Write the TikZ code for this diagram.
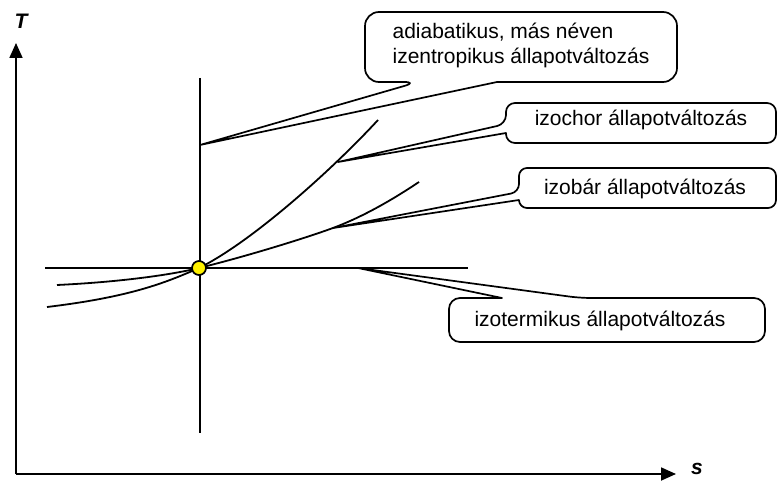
\documentclass[tikz,border=0pt]{standalone}
\usepackage{fontspec}
\setmainfont{Liberation Sans}
\usetikzlibrary{arrows.meta}
\begin{document}
\begin{tikzpicture}[x=1bp,y=-1bp,
  line width=1.8bp, line join=round,
  axis/.style={line width=1.8bp,-{Triangle[length=15bp,width=13bp]}},
  curve/.style={line width=1.8bp},
  bubble/.style={draw, line width=1.7bp},
  txt/.style={font=\fontsize{21bp}{25bp}\selectfont, inner sep=0pt, align=left},
  axlabel/.style={font=\fontsize{21bp}{25bp}\selectfont\bfseries\itshape, inner sep=0pt},
  state/.style={circle, draw, fill=yellow, line width=1.7bp, minimum size=14bp, inner sep=0pt}]
\useasboundingbox (0,0) rectangle (779,482);

% axes
\coordinate (O) at (16,474);
\coordinate (Tend) at (16,43);
\coordinate (Send) at (676,474);
\draw[axis] (O) -- (Tend);
\draw[axis] (O) -- (Send);
\node[axlabel] (T) at (21,21) {T};
\node[axlabel] (S) at (697,469) {s};

% curve end points and callout tips
\coordinate (P) at (199,268);
\coordinate (adTop) at (200,78);
\coordinate (adBot) at (200,433);
\coordinate (isoL) at (45,268);
\coordinate (isoR) at (468,268);
\coordinate (vL) at (47,307);
\coordinate (vR) at (378,120);
\coordinate (pL) at (57,285);
\coordinate (pM) at (333,228);
\coordinate (pR) at (419,182);
\coordinate (tipA) at (200,145);
\coordinate (tipV) at (338,162);
\coordinate (tipP) at (333,228);
\coordinate (tipT) at (358,268);

% callouts
\draw[bubble] (tipA) -- (497,82) [rounded corners=14bp] -- (677,82) -- (677,12)
  -- (365,12) -- (365,82) -- (418,82) [sharp corners] -- cycle;
\draw[bubble] (tipV) -- (506,133) [rounded corners=9bp] -- (506,143) -- (776,143)
  -- (776,103) -- (506,103) -- (506,124) [sharp corners] -- cycle;
\draw[bubble] (tipP) -- (519,200) [rounded corners=8bp] -- (519,208) -- (776,208)
  -- (776,168) -- (519,168) -- (519,192) [sharp corners] -- cycle;
\draw[bubble] (tipT) -- (502,298) [rounded corners=11bp] -- (449,298) -- (449,342)
  -- (765,342) -- (765,298) -- (580,298) [sharp corners] -- cycle;

% processes
\draw[curve] (adTop) -- (adBot);
\draw[curve] (isoL) -- (isoR);
\draw[curve] (vL) .. controls (130,297) and (165,283) .. (P)
  .. controls (250,243) and (330,172) .. (vR);
\draw[curve] (pL) .. controls (120,282) and (170,275) .. (P)
  .. controls (240,258) and (300,240) .. (pM)
  .. controls (365,216) and (395,198) .. (pR);
\node[state] (pt) at (P) {};

% callout texts
\node[txt] (adiab) at (521,45) {adiabatikus, más néven\\izentropikus állapotváltozás};
\node[txt] (izochor) at (641,120) {izochor állapotváltozás};
\node[txt] (izobar) at (645,189) {izobár állapotváltozás};
\node[txt] (izoterm) at (600,321) {izotermikus állapotváltozás};
\end{tikzpicture}
\end{document}
